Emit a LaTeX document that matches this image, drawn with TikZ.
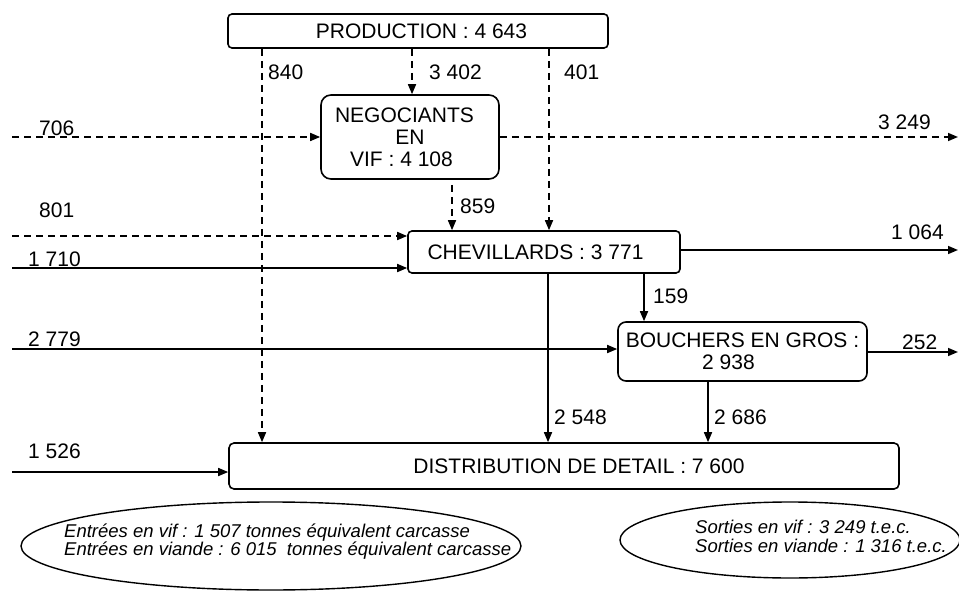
\documentclass[tikz,border=0pt]{standalone}
\usepackage{fontspec}
\setmainfont{Liberation Sans}
\usetikzlibrary{arrows.meta,shapes.geometric}
\begin{document}
\begin{tikzpicture}[x=1pt,y=-1pt,
  box/.style={draw, line width=1.6pt, inner sep=0pt, font=\fontsize{21}{22}\selectfont, align=center},
  flow/.style={line width=1.6pt, -{Triangle[length=10pt,width=8pt]}},
  dflow/.style={flow, dash pattern=on 7pt off 5pt},
  lab/.style={anchor=base west, inner sep=0pt, font=\fontsize{21}{22}\selectfont},
  note/.style={draw, ellipse, line width=1.4pt, inner sep=0pt},
  notetext/.style={anchor=base west, inner sep=0pt, font=\fontsize{18.5}{19}\selectfont\itshape}]
\useasboundingbox (0,0) rectangle (959,591);

% boxes
\node[box, rounded corners=4pt, minimum width=380pt, minimum height=34pt] (prod) at (418,31) {\hspace*{7pt}PRODUCTION : 4 643};
\node[box, rounded corners=10pt, minimum width=178pt, minimum height=84pt] (neg) at (410,137) {NEGOCIANTS\hspace*{11pt}\\EN\hspace*{29pt}\\VIF : 4 108\hspace*{17pt}};
\node[box, rounded corners=4pt, minimum width=272pt, minimum height=42pt] (chev) at (544,252) {CHEVILLARDS : 3 771\hspace*{17pt}};
\node[box, rounded corners=8pt, minimum width=249pt, minimum height=59pt] (bouch) at (742.5,351.5) {BOUCHERS EN GROS :\\2 938\hspace*{28pt}};
\node[box, rounded corners=5pt, minimum width=670pt, minimum height=46pt] (dist) at (564,466) {\hspace*{30pt}DISTRIBUTION DE DETAIL : 7 600};

% ellipses
\node[note, minimum width=500pt, minimum height=88pt] (entell) at (271,546) {};
\node[notetext] (ent1) at (64,537) {Entrées en vif : 1 507 tonnes équivalent carcasse};
\node[notetext] (ent2) at (64,555) {Entrées en viande : 6 015\ \ tonnes équivalent carcasse};
\node[note, minimum width=340pt, minimum height=76pt] (sorell) at (790,540) {};
\node[notetext] (sor1) at (695,533) {Sorties en vif : 3 249 t.e.c.};
\node[notetext] (sor2) at (695,552) {Sorties en viande : 1 316 t.e.c.};

% coordinates
\coordinate (x840) at (262,0);
\coordinate (x3402) at (412,0);
\coordinate (x401) at (549,0);
\coordinate (s706) at (12,137);
\coordinate (e3249) at (958,137);
\coordinate (s859) at (452,185);
\coordinate (s801) at (12,236);
\coordinate (s1710) at (12,268);
\coordinate (e1064) at (958,250);
\coordinate (x159) at (644,0);
\coordinate (x2548) at (548,0);
\coordinate (s2779) at (12,349);
\coordinate (e252) at (958,352);
\coordinate (x2686) at (708,0);
\coordinate (s1526) at (12,472);

% connectors
\draw[dflow] (prod.south -| x840) -- (dist.north -| x840);
\draw[dflow] (prod.south -| x3402) -- (neg.north -| x3402);
\draw[dflow] (prod.south -| x401) -- (chev.north -| x401);
\draw[dflow] (s706) -- (neg.west |- s706);
\draw[dflow] (neg.east |- e3249) -- (e3249);
\draw[dflow] (s859) -- (chev.north -| s859);
\draw[dflow] (s801) -- (chev.west |- s801);
\draw[flow] (s1710) -- (chev.west |- s1710);
\draw[flow] (chev.east |- e1064) -- (e1064);
\draw[flow] (chev.south -| x159) -- (bouch.north -| x159);
\draw[flow] (chev.south -| x2548) -- (dist.north -| x2548);
\draw[flow] (s2779) -- (bouch.west |- s2779);
\draw[flow] (bouch.east |- e252) -- (e252);
\draw[flow] (bouch.south -| x2686) -- (dist.north -| x2686);
\draw[flow] (s1526) -- (dist.west |- s1526);

% labels
\node[lab] (l840) at (268,80) {840};
\node[lab] (l3402) at (429,80) {3 402};
\node[lab] (l401) at (564,80) {401};
\node[lab] (l706) at (39,136) {706};
\node[lab] (l3249) at (878,130) {3 249};
\node[lab] (l859) at (460,213) {859};
\node[lab] (l801) at (39,218) {801};
\node[lab] (l1710) at (28,266) {1 710};
\node[lab] (l1064) at (891,239) {1 064};
\node[lab] (l159) at (653,303) {159};
\node[lab] (l2779) at (28,346) {2 779};
\node[lab] (l252) at (902,349) {252};
\node[lab] (l2548) at (554,424) {2 548};
\node[lab] (l2686) at (714,424) {2 686};
\node[lab] (l1526) at (28,458) {1 526};
\end{tikzpicture}
\end{document}
